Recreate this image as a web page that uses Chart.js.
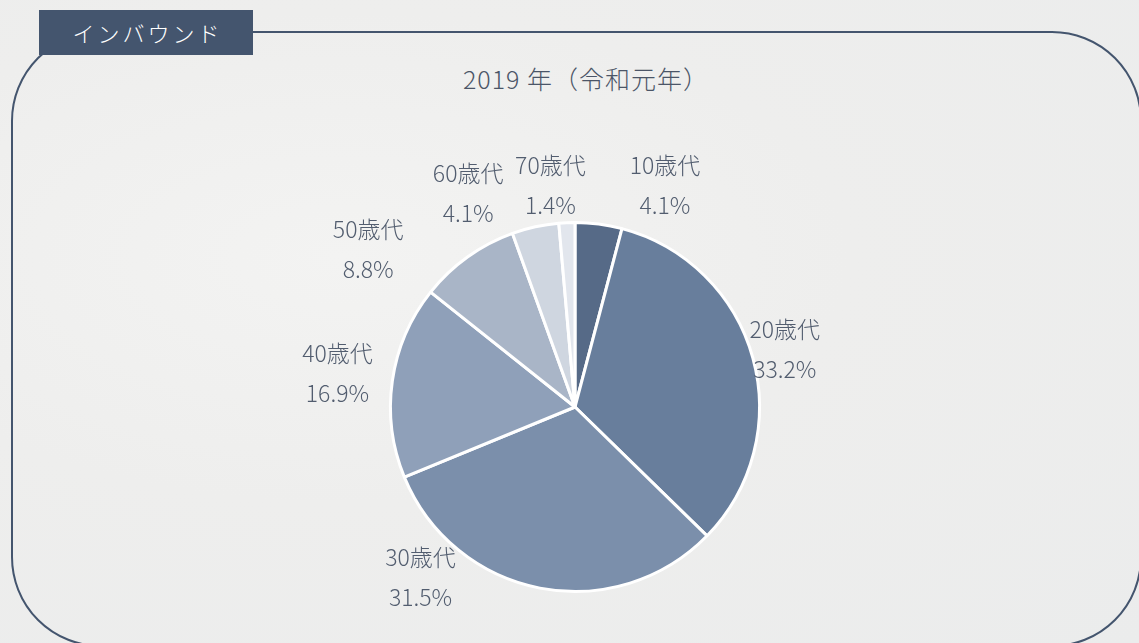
<!DOCTYPE html>
<html>
<head>
<meta charset="utf-8">
<script src="https://cdn.jsdelivr.net/npm/chart.js@4/dist/chart.umd.min.js"></script>
<style>
  html, body { margin: 0; padding: 0; }
  body {
    width: 1139px; height: 643px; overflow: hidden; position: relative;
    background: radial-gradient(ellipse at 30% 40%, #f3f3f2 0%, #eeeeed 45%, #ebecec 100%);
    font-family: "Noto Sans CJK JP", "Noto Sans", sans-serif;
  }
  #frame {
    position: absolute; left: 11px; top: 31px; width: 1127px; height: 612px;
    border: 2px solid #44556e; border-radius: 90px;
  }
  #tab {
    position: absolute; left: 39px; top: 10px; width: 214px; height: 45px;
    background: #44556e; color: #fff; font-size: 22px; font-weight: 300;
    line-height: 45px; text-align: center; letter-spacing: 3px; text-indent: 3px;
  }
  #title {
    position: absolute; left: 336px; top: 60px; width: 500px; text-align: center;
    font-size: 25px; font-weight: 300; color: #4b5567; letter-spacing: 1px;
  }
  #wrap { position: absolute; left: 0; top: 0; width: 1139px; height: 643px; }
</style>
</head>
<body>
<div id="frame"></div>
<div id="tab">インバウンド</div>
<div id="title">2019 年（令和元年）</div>
<div id="wrap"><canvas id="c"></canvas></div>
<script>
var labels = ["10歳代", "20歳代", "30歳代", "40歳代", "50歳代", "60歳代", "70歳代"];
var values = [4.1, 33.2, 31.5, 16.9, 8.8, 4.1, 1.4];
var colors = ["#566a87", "#687e9c", "#7b8fab", "#8fa0b9", "#a9b5c7", "#cfd6e0", "#e2e6ed"];

// label nudges from the default radial position (layout only)
var nudges = [[62, -6], [0, 0], [-113, -43], [-22, -3], [-80, 19], [-60, -1], [-15, -4]];

var outsideLabels = {
    id: "outsideLabels",
    afterDatasetsDraw: function (chart) {
        var ctx = chart.ctx;
        var meta = chart.getDatasetMeta(0);
        ctx.save();
        ctx.fillStyle = "#525d6f";
        ctx.font = "300 23px 'Noto Sans CJK JP', 'Noto Sans', sans-serif";
        ctx.textAlign = "center";
        ctx.textBaseline = "middle";
        meta.data.forEach(function (arc, i) {
            var p = arc.getProps(["x", "y", "startAngle", "endAngle", "outerRadius"], true);
            var mid = (p.startAngle + p.endAngle) / 2;
            var d = p.outerRadius * 1.18;
            var x = p.x + Math.cos(mid) * d + nudges[i][0];
            var y = p.y + Math.sin(mid) * d + nudges[i][1];
            ctx.fillText(labels[i], x, y - 20);
            ctx.fillText(values[i].toFixed(1) + "%", x, y + 20);
        });
        ctx.restore();
    }
};

new Chart(document.getElementById("c"), {
    type: "pie",
    data: {
        labels: labels,
        datasets: [{
            data: values,
            backgroundColor: colors,
            borderColor: "#ffffff",
            borderWidth: 3
        }]
    },
    options: {
        responsive: true,
        maintainAspectRatio: false,
        animation: false,
        layout: { padding: { top: 221, bottom: 50, left: 389, right: 378 } },
        plugins: { legend: { display: false }, tooltip: { enabled: false } }
    },
    plugins: [outsideLabels]
});
</script>
</body>
</html>
